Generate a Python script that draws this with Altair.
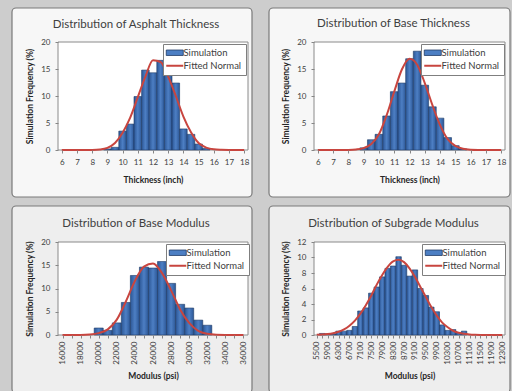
import altair as alt
import pandas as pd

FONT = "Lato"
BAR_EDGE = "#1F3B66"
BAR_MID = "#4D7FC4"
BAR_SIDE = "#2C5796"
RED = "#C8453F"
GAP = "#CDCDCD"
TEXT = "#404040"
AXIS_GREY = "#868686"
YTITLE = "Simulation Frequency (%)"

# ---------------- data ----------------
THICK_X = [6.0, 6.5, 7.0, 7.5, 8.0, 8.5, 9.0, 9.5, 10.0, 10.5, 11.0, 11.5, 12.0,
           12.5, 13.0, 13.5, 14.0, 14.5, 15.0, 15.5, 16.0, 16.5, 17.0, 17.5, 18.0]

ASPH_BAR_X = [9.0, 9.5, 10.0, 10.5, 11.0, 11.5, 12.0, 12.5, 13.0, 13.5, 14.0, 14.5, 15.0, 15.5]
ASPH_BAR_Y = [0.2, 0.5, 3.5, 4.8, 9.9, 14.8, 14.3, 16.6, 14.7, 12.4, 3.9, 2.9, 1.1, 0.3]
ASPH_FIT = [0, 0, 0, 0, 0.02, 0.1, 0.4, 1.3, 3.2, 6.0, 9.8, 13.6, 16.6,
            16.3, 13.6, 10.0, 6.2, 3.3, 1.3, 0.45, 0.12, 0.03, 0, 0, 0]

BASE_BAR_X = [9.0, 9.5, 10.0, 10.5, 11.0, 11.5, 12.0, 12.5, 13.0, 13.5, 14.0, 14.5, 15.0, 15.5]
BASE_BAR_Y = [0.4, 1.9, 2.9, 6.3, 10.8, 12.4, 16.9, 18.3, 12.0, 8.0, 5.9, 2.3, 0.8, 0.2]
BASE_FIT = [0, 0, 0, 0, 0.02, 0.1, 0.35, 1.1, 2.9, 6.4, 10.8, 14.9, 16.9,
            15.8, 12.4, 8.3, 4.6, 2.0, 0.75, 0.22, 0.05, 0.01, 0, 0, 0]

MOD_X = [16000, 17000, 18000, 19000, 20000, 21000, 22000, 23000, 24000, 25000, 26000,
         27000, 28000, 29000, 30000, 31000, 32000, 33000, 34000, 35000, 36000]
BMOD_BAR_X = [20000, 21000, 22000, 23000, 24000, 25000, 26000, 27000, 28000, 29000,
              30000, 31000, 32000]
BMOD_BAR_Y = [1.5, 1.0, 2.6, 7.0, 12.8, 14.6, 14.4, 15.8, 11.1, 6.6, 5.8, 3.2, 2.1]
BMOD_FIT = [0, 0, 0.01, 0.1, 0.4, 1.2, 3.3, 7.2, 11.6, 14.7, 15.4, 13.3, 9.6, 5.5,
            2.6, 0.9, 0.25, 0.05, 0.01, 0, 0]

SUB_X = [5500, 5700, 5900, 6100, 6300, 6500, 6700, 6900, 7100, 7300, 7500, 7700,
         7900, 8100, 8300, 8500, 8700, 8900, 9100, 9300, 9500, 9700, 9900, 10100,
         10300, 10500, 10700, 10900, 11100, 11300, 11500, 11700, 11900, 12100, 12300]
SUB_BAR_X = [5700, 5900, 6100, 6300, 6500, 6700, 6900, 7100, 7300, 7500, 7700, 7900,
             8100, 8300, 8500, 8700, 8900, 9100, 9300, 9500, 9700, 9900, 10100, 10300,
             10500, 10700, 10900]
SUB_BAR_Y = [0.2, 0.15, 0.1, 0.5, 0.5, 0.6, 1.1, 3.1, 3.5, 5.4, 6.2, 7.5, 8.6, 8.9,
             10.1, 9.0, 7.6, 8.4, 6.0, 5.1, 3.6, 3.0, 1.3, 0.6, 0.7, 0.3, 0.5]
SUB_FIT = [0.03, 0.06, 0.12, 0.23, 0.42, 0.73, 1.2, 1.85, 2.75, 3.85, 5.1, 6.5, 7.75,
           8.8, 9.5, 9.7, 9.4, 8.6, 7.5, 6.2, 4.9, 3.6, 2.5, 1.6, 1.0, 0.55, 0.3, 0.15,
           0.07, 0.03, 0.01, 0, 0, 0, 0]

Y20 = [0, 5, 10, 15, 20]
Y12 = [0, 2, 4, 6, 8, 10, 12]

GRAD = alt.Gradient(
    gradient="linear", x1=0, x2=1, y1=0, y2=0,
    stops=[alt.GradientStop(color=BAR_SIDE, offset=0),
           alt.GradientStop(color=BAR_MID, offset=0.5),
           alt.GradientStop(color=BAR_SIDE, offset=1)])

SIM_TEST = "datum.value === 'Simulation'"


def make_legend(lx):
    return alt.Legend(
        title=None, orient="none", legendX=lx, legendY=2, direction="vertical",
        fillColor="#FFFFFF", strokeColor="#7F7F7F", padding=4,
        labelFont=FONT, labelFontSize=9.5, labelColor=TEXT, labelOffset=4,
        symbolSize=289, rowPadding=2, symbolOffset=3,
        symbolType=alt.ExprRef(f"{SIM_TEST} ? 'M-1,-0.32H1V0.32H-1Z' : 'stroke'"),
        symbolFillColor=alt.ExprRef(f"{SIM_TEST} ? '{BAR_MID}' : 'transparent'"),
        symbolStrokeWidth=alt.ExprRef(f"{SIM_TEST} ? 0.8 : 2"),
    )


def rect_layer(x1, x2, y1, y2, **kw):
    return alt.Chart(pd.DataFrame({"k": [0]})).mark_rect(**kw).encode(
        x=alt.value(x1), x2=alt.value(x2), y=alt.value(y1), y2=alt.value(y2))


def panel(title, dx, dy, bar_x, bar_y, half, fit_x, fit_y, xdomain, xvalues,
          label_expr, xtitle, ydomain, yvalues, w, h, box, box_fill, lx,
          rotated, corner=None):
    layers = []
    if corner is not None:
        layers.append(rect_layer(*corner, fill=GAP))
    layers.append(rect_layer(*box, fill=box_fill, stroke="#7A7A7A", strokeWidth=1.2, cornerRadius=4))
    layers.append(rect_layer(0, w, 0, h, fill="white", stroke="#8A8A8A", strokeWidth=1))

    scale_x = alt.Scale(domain=xdomain, nice=False, zero=False)
    scale_y = alt.Scale(domain=ydomain, nice=False)

    xaxis_kw = dict(values=xvalues, labelExpr=label_expr, title=xtitle, zindex=1,
                    domain=False, grid=False, tickSize=3, tickColor=AXIS_GREY,
                    labelFont=FONT, labelColor=TEXT, labelOverlap=False, labelFlush=False,
                    labelBound=False, format="d",
                    titleFont=FONT, titleFontSize=8.5, titleFontWeight="bold",
                    titleColor="#262626")
    if rotated:
        xaxis_kw.update(labelAngle=270, labelAlign="right", labelBaseline="middle",
                        labelFontSize=8, labelPadding=3, titlePadding=7)
    else:
        xaxis_kw.update(labelFontSize=8, labelPadding=5, titlePadding=9)
    xaxis = alt.Axis(**xaxis_kw)
    yaxis = alt.Axis(values=yvalues, title=YTITLE, zindex=1, domain=False, grid=False,
                     tickSize=3, tickColor=AXIS_GREY, labelFont=FONT, labelFontSize=8,
                     labelColor=TEXT, labelPadding=5, labelOverlap=False, labelBound=False,
                     titleFont=FONT, titleFontSize=8.5,
                     titleFontWeight="bold", titleColor="#262626", titlePadding=6)

    bdf = pd.DataFrame({"c": bar_x, "f": bar_y})
    bars = alt.Chart(bdf).transform_calculate(
        x0=f"datum.c - {half}", x1=f"datum.c + {half}"
    ).mark_rect(fill=GRAD, stroke=BAR_EDGE, strokeWidth=0.6).encode(
        x=alt.X("x0:Q", scale=scale_x, axis=xaxis, title=xtitle),
        x2="x1:Q",
        y=alt.Y("f:Q", scale=scale_y, axis=yaxis, title=YTITLE),
        y2=alt.datum(0),
    )

    fdf = pd.DataFrame({"x": fit_x, "y": fit_y, "series": ["Fitted Normal"] * len(fit_x)})
    line = alt.Chart(fdf).mark_line(interpolate="monotone", strokeWidth=2).encode(
        x=alt.X("x:Q", scale=scale_x, axis=xaxis, title=xtitle),
        y=alt.Y("y:Q", scale=scale_y, axis=yaxis, title=YTITLE),
        color=alt.Color("series:N",
                        scale=alt.Scale(domain=["Simulation", "Fitted Normal"], range=[BAR_EDGE, RED]),
                        legend=make_legend(lx)),
    )
    layers += [bars, line]
    return alt.layer(*layers).properties(
        width=w, height=h,
        title=alt.TitleParams(title, font=FONT, fontSize=11.5, fontWeight="normal",
                              color=TEXT, anchor="middle", frame="group", offset=0,
                              dx=dx, dy=dy))


p1 = panel("Distribution of Asphalt Thickness", -17, 30.5, ASPH_BAR_X, ASPH_BAR_Y, 0.25,
           THICK_X, ASPH_FIT, [5.75, 18.25], THICK_X, "datum.value % 1 === 0 ? datum.label : ''",
           "Thickness (inch)", [0, 20], Y20, 190, 108, (-46, 194, -34, 155), "#F7F7F7", 105,
           False, corner=(-58, -50, -42, -34))
p2 = panel("Distribution of Base Thickness", -16, 22.5, BASE_BAR_X, BASE_BAR_Y, 0.25,
           THICK_X, BASE_FIT, [5.75, 18.25], THICK_X, "datum.value % 1 === 0 ? datum.label : ''",
           "Thickness (inch)", [0, 20], Y20, 191, 108, (-45, 196, -34, 155), "#F7F7F7", 107,
           False)
p3 = panel("Distribution of Base Modulus", -17, 24.5, BMOD_BAR_X, BMOD_BAR_Y, 500,
           MOD_X, BMOD_FIT, [15500, 36500], MOD_X, "datum.value % 2000 === 0 ? datum.label : ''",
           "Modulus (psi)", [0, 20], Y20, 190, 93, (-46, 194, -36, 151), "#EEEEEE", 108,
           True)
p4 = panel("Distribution of Subgrade Modulus", -16, 24.5, SUB_BAR_X, SUB_BAR_Y, 100,
           SUB_X, SUB_FIT, [5400, 12400], SUB_X, "(datum.value - 5500) % 400 === 0 ? datum.label : ''",
           "Modulus (psi)", [0, 12], Y12, 191, 93, (-45, 196, -36, 151), "#EEEEEE", 108,
           True, corner=(188, 198, 140, 149))

chart = alt.concat(p1, p2, p3, p4, columns=2, spacing={"row": 92, "column": 66},
                   bounds="flush").resolve_scale(color="independent").resolve_legend(
    color="independent").properties(background=GAP, padding=0).configure_view(strokeWidth=0)

chart.save("out.html", embed_options={"renderer": "svg", "actions": False})
